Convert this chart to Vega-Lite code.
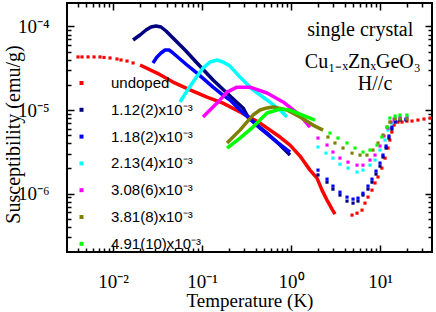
{
  "$schema": "https://vega.github.io/schema/vega-lite/v6.json",
  "width": 365,
  "height": 249,
  "autosize": {"type": "none"},
  "padding": {"left": 67, "top": 3, "right": 4, "bottom": 60},
  "background": "white",
  "config": {"view": {"stroke": "black", "strokeWidth": 2}},
  "datasets": {
    "chi": [
      {"s":"undoped","m":"p","T":0.00404,"chi":4.32e-5},
      {"s":"undoped","m":"p","T":0.00448,"chi":4.32e-5},
      {"s":"undoped","m":"p","T":0.00524,"chi":4.32e-5},
      {"s":"undoped","m":"p","T":0.00612,"chi":4.32e-5},
      {"s":"undoped","m":"p","T":0.00714,"chi":4.32e-5},
      {"s":"undoped","m":"p","T":0.00792,"chi":4.26e-5},
      {"s":"undoped","m":"p","T":0.00925,"chi":4.20e-5},
      {"s":"undoped","m":"p","T":0.0111,"chi":4.08e-5},
      {"s":"undoped","m":"p","T":0.0123,"chi":3.97e-5},
      {"s":"undoped","m":"p","T":0.01436,"chi":3.86e-5},
      {"s":"undoped","m":"p","T":0.0168,"chi":3.66e-5},
      {"s":"undoped","m":"l","T":0.0201,"chi":3.46e-5},
      {"s":"undoped","m":"l","T":0.0312,"chi":2.77e-5},
      {"s":"undoped","m":"l","T":0.0472,"chi":2.16e-5},
      {"s":"undoped","m":"l","T":0.0733,"chi":1.74e-5},
      {"s":"undoped","m":"l","T":0.1138,"chi":1.43e-5},
      {"s":"undoped","m":"l","T":0.172,"chi":1.21e-5},
      {"s":"undoped","m":"l","T":0.267,"chi":9.46e-6},
      {"s":"undoped","m":"l","T":0.449,"chi":6.98e-6},
      {"s":"undoped","m":"l","T":0.752,"chi":4.75e-6},
      {"s":"undoped","m":"l","T":0.975,"chi":3.81e-6},
      {"s":"undoped","m":"l","T":1.262,"chi":2.81e-6},
      {"s":"undoped","m":"l","T":1.634,"chi":1.91e-6},
      {"s":"undoped","m":"l","T":1.959,"chi":1.53e-6},
      {"s":"undoped","m":"l","T":2.23,"chi":1.10e-6},
      {"s":"undoped","m":"l","T":2.54,"chi":8.36e-7},
      {"s":"undoped","m":"l","T":2.89,"chi":6.52e-7},
      {"s":"undoped","m":"l","T":3.12,"chi":5.68e-7},
      {"s":"undoped","m":"p","T":4.85,"chi":5.53e-7},
      {"s":"undoped","m":"p","T":5.52,"chi":5.83e-7},
      {"s":"undoped","m":"p","T":6.28,"chi":6.34e-7},
      {"s":"undoped","m":"p","T":6.78,"chi":7.69e-7},
      {"s":"undoped","m":"p","T":7.33,"chi":9.08e-7},
      {"s":"undoped","m":"p","T":8.13,"chi":1.10e-6},
      {"s":"undoped","m":"p","T":8.79,"chi":1.34e-6},
      {"s":"undoped","m":"p","T":9.50,"chi":1.58e-6},
      {"s":"undoped","m":"p","T":10.5,"chi":2.02e-6},
      {"s":"undoped","m":"p","T":11.4,"chi":2.66e-6},
      {"s":"undoped","m":"p","T":12.3,"chi":3.51e-6},
      {"s":"undoped","m":"p","T":12.9,"chi":4.37e-6},
      {"s":"undoped","m":"p","T":13.6,"chi":5.45e-6},
      {"s":"undoped","m":"p","T":14.4,"chi":6.61e-6},
      {"s":"undoped","m":"p","T":15.9,"chi":7.18e-6},
      {"s":"undoped","m":"p","T":17.7,"chi":7.18e-6},
      {"s":"undoped","m":"p","T":20.1,"chi":7.38e-6},
      {"s":"undoped","m":"p","T":22.9,"chi":7.38e-6},
      {"s":"undoped","m":"p","T":26.7,"chi":7.59e-6},
      {"s":"undoped","m":"p","T":31.2,"chi":7.80e-6},
      {"s":"undoped","m":"p","T":36.5,"chi":8.02e-6},

      {"s":"1.12","m":"l","T":0.0168,"chi":6.89e-5},
      {"s":"1.12","m":"l","T":0.0201,"chi":7.91e-5},
      {"s":"1.12","m":"l","T":0.0235,"chi":9.08e-5},
      {"s":"1.12","m":"l","T":0.0267,"chi":9.86e-5},
      {"s":"1.12","m":"l","T":0.0304,"chi":1.014e-4},
      {"s":"1.12","m":"l","T":0.0346,"chi":9.86e-5},
      {"s":"1.12","m":"l","T":0.0394,"chi":8.83e-5},
      {"s":"1.12","m":"l","T":0.0472,"chi":7.28e-5},
      {"s":"1.12","m":"l","T":0.0644,"chi":5.23e-5},
      {"s":"1.12","m":"l","T":0.0879,"chi":3.66e-5},
      {"s":"1.12","m":"l","T":0.133,"chi":2.29e-5},
      {"s":"1.12","m":"l","T":0.2065,"chi":1.47e-5},
      {"s":"1.12","m":"l","T":0.289,"chi":1.06e-5},
      {"s":"1.12","m":"l","T":0.329,"chi":8.24e-6},
      {"s":"1.12","m":"l","T":0.415,"chi":6.61e-6},
      {"s":"1.12","m":"l","T":0.537,"chi":5.30e-6},
      {"s":"1.12","m":"l","T":0.752,"chi":3.81e-6},
      {"s":"1.12","m":"l","T":0.975,"chi":2.89e-6},
      {"s":"1.12","m":"p","T":2.01,"chi":1.67e-6},
      {"s":"1.12","m":"p","T":2.54,"chi":1.37e-6},
      {"s":"1.12","m":"p","T":2.96,"chi":1.13e-6},
      {"s":"1.12","m":"p","T":3.55,"chi":9.6e-7},
      {"s":"1.12","m":"p","T":4.26,"chi":8.13e-7},
      {"s":"1.12","m":"p","T":4.98,"chi":7.69e-7},
      {"s":"1.12","m":"p","T":5.66,"chi":8.13e-7},
      {"s":"1.12","m":"p","T":6.44,"chi":9.6e-7},
      {"s":"1.12","m":"p","T":7.33,"chi":1.13e-6},
      {"s":"1.12","m":"p","T":8.13,"chi":1.37e-6},
      {"s":"1.12","m":"p","T":9.02,"chi":1.71e-6},
      {"s":"1.12","m":"p","T":10.0,"chi":2.13e-6},
      {"s":"1.12","m":"p","T":10.8,"chi":2.74e-6},
      {"s":"1.12","m":"p","T":11.7,"chi":3.51e-6},
      {"s":"1.12","m":"p","T":12.6,"chi":4.62e-6},
      {"s":"1.12","m":"p","T":13.6,"chi":5.92e-6},
      {"s":"1.12","m":"p","T":14.8,"chi":7.18e-6},
      {"s":"1.12","m":"p","T":16.8,"chi":7.59e-6},
      {"s":"1.12","m":"p","T":19.6,"chi":7.59e-6},

      {"s":"1.18","m":"l","T":0.0281,"chi":3.66e-5},
      {"s":"1.18","m":"l","T":0.0312,"chi":4.32e-5},
      {"s":"1.18","m":"l","T":0.0346,"chi":4.82e-5},
      {"s":"1.18","m":"l","T":0.0384,"chi":5.23e-5},
      {"s":"1.18","m":"l","T":0.0426,"chi":5.23e-5},
      {"s":"1.18","m":"l","T":0.0472,"chi":4.82e-5},
      {"s":"1.18","m":"l","T":0.0678,"chi":3.46e-5},
      {"s":"1.18","m":"l","T":0.0879,"chi":2.77e-5},
      {"s":"1.18","m":"l","T":0.133,"chi":1.88e-5},
      {"s":"1.18","m":"l","T":0.172,"chi":1.51e-5},
      {"s":"1.18","m":"l","T":0.2065,"chi":1.32e-5},
      {"s":"1.18","m":"l","T":0.267,"chi":1.00e-5},
      {"s":"1.18","m":"l","T":0.449,"chi":6.08e-6},
      {"s":"1.18","m":"l","T":0.697,"chi":4.14e-6},
      {"s":"1.18","m":"l","T":0.975,"chi":3.14e-6},
      {"s":"1.18","m":"p","T":2.01,"chi":1.91e-6},
      {"s":"1.18","m":"p","T":2.54,"chi":1.49e-6},
      {"s":"1.18","m":"p","T":2.96,"chi":1.23e-6},
      {"s":"1.18","m":"p","T":3.55,"chi":1.04e-6},
      {"s":"1.18","m":"p","T":4.26,"chi":9.08e-7},
      {"s":"1.18","m":"p","T":4.98,"chi":8.59e-7},
      {"s":"1.18","m":"p","T":5.66,"chi":8.83e-7},
      {"s":"1.18","m":"p","T":6.44,"chi":1.01e-6},
      {"s":"1.18","m":"p","T":7.33,"chi":1.23e-6},
      {"s":"1.18","m":"p","T":8.13,"chi":1.49e-6},
      {"s":"1.18","m":"p","T":9.02,"chi":1.86e-6},
      {"s":"1.18","m":"p","T":10.0,"chi":2.32e-6},
      {"s":"1.18","m":"p","T":10.8,"chi":2.89e-6},
      {"s":"1.18","m":"p","T":11.7,"chi":3.71e-6},
      {"s":"1.18","m":"p","T":12.6,"chi":4.89e-6},
      {"s":"1.18","m":"p","T":13.6,"chi":6.25e-6},
      {"s":"1.18","m":"p","T":14.8,"chi":7.38e-6},
      {"s":"1.18","m":"p","T":16.8,"chi":7.80e-6},
      {"s":"1.18","m":"p","T":19.6,"chi":7.80e-6},

      {"s":"2.13","m":"l","T":0.0566,"chi":1.25e-5},
      {"s":"2.13","m":"l","T":0.0678,"chi":1.69e-5},
      {"s":"2.13","m":"l","T":0.0793,"chi":2.16e-5},
      {"s":"2.13","m":"l","T":0.1026,"chi":3.18e-5},
      {"s":"2.13","m":"l","T":0.123,"chi":3.76e-5},
      {"s":"2.13","m":"l","T":0.1476,"chi":3.97e-5},
      {"s":"2.13","m":"l","T":0.172,"chi":3.76e-5},
      {"s":"2.13","m":"l","T":0.2065,"chi":3.36e-5},
      {"s":"2.13","m":"l","T":0.267,"chi":2.48e-5},
      {"s":"2.13","m":"l","T":0.374,"chi":1.74e-5},
      {"s":"2.13","m":"l","T":0.537,"chi":1.32e-5},
      {"s":"2.13","m":"l","T":0.752,"chi":1.00e-5},
      {"s":"2.13","m":"l","T":0.901,"chi":8.24e-6},
      {"s":"2.13","m":"p","T":2.01,"chi":3.61e-6},
      {"s":"2.13","m":"p","T":2.47,"chi":3.05e-6},
      {"s":"2.13","m":"p","T":2.96,"chi":2.66e-6},
      {"s":"2.13","m":"p","T":3.55,"chi":2.25e-6},
      {"s":"2.13","m":"p","T":4.37,"chi":2.02e-6},
      {"s":"2.13","m":"p","T":5.52,"chi":1.81e-6},
      {"s":"2.13","m":"p","T":6.44,"chi":1.91e-6},
      {"s":"2.13","m":"p","T":7.72,"chi":2.19e-6},
      {"s":"2.13","m":"p","T":8.79,"chi":2.52e-6},
      {"s":"2.13","m":"p","T":10.0,"chi":3.32e-6},
      {"s":"2.13","m":"p","T":11.4,"chi":4.37e-6},
      {"s":"2.13","m":"p","T":12.3,"chi":5.75e-6},
      {"s":"2.13","m":"p","T":13.6,"chi":6.98e-6},
      {"s":"2.13","m":"p","T":14.8,"chi":8.02e-6},
      {"s":"2.13","m":"p","T":16.8,"chi":8.24e-6},
      {"s":"2.13","m":"p","T":20.1,"chi":8.24e-6},

      {"s":"3.08","m":"l","T":0.1026,"chi":8.24e-6},
      {"s":"3.08","m":"l","T":0.123,"chi":1.00e-5},
      {"s":"3.08","m":"l","T":0.1476,"chi":1.21e-5},
      {"s":"3.08","m":"l","T":0.191,"chi":1.64e-5},
      {"s":"3.08","m":"l","T":0.247,"chi":1.88e-5},
      {"s":"3.08","m":"l","T":0.346,"chi":1.88e-5},
      {"s":"3.08","m":"l","T":0.537,"chi":1.60e-5},
      {"s":"3.08","m":"l","T":0.813,"chi":1.25e-5},
      {"s":"3.08","m":"l","T":1.262,"chi":8.71e-6},
      {"s":"3.08","m":"l","T":1.634,"chi":6.25e-6},
      {"s":"3.08","m":"p","T":2.01,"chi":4.62e-6},
      {"s":"3.08","m":"p","T":2.54,"chi":3.81e-6},
      {"s":"3.08","m":"p","T":2.96,"chi":3.14e-6},
      {"s":"3.08","m":"p","T":3.55,"chi":2.66e-6},
      {"s":"3.08","m":"p","T":4.37,"chi":2.38e-6},
      {"s":"3.08","m":"p","T":5.52,"chi":2.19e-6},
      {"s":"3.08","m":"p","T":6.44,"chi":2.19e-6},
      {"s":"3.08","m":"p","T":7.72,"chi":2.52e-6},
      {"s":"3.08","m":"p","T":8.79,"chi":2.89e-6},
      {"s":"3.08","m":"p","T":10.0,"chi":3.71e-6},
      {"s":"3.08","m":"p","T":11.1,"chi":4.89e-6},
      {"s":"3.08","m":"p","T":12.3,"chi":6.08e-6},
      {"s":"3.08","m":"p","T":13.3,"chi":7.18e-6},
      {"s":"3.08","m":"p","T":14.4,"chi":7.80e-6},
      {"s":"3.08","m":"p","T":16.8,"chi":8.02e-6},
      {"s":"3.08","m":"p","T":20.1,"chi":8.02e-6},

      {"s":"3.81","m":"l","T":0.191,"chi":4.03e-6},
      {"s":"3.81","m":"l","T":0.267,"chi":5.75e-6},
      {"s":"3.81","m":"l","T":0.374,"chi":8.71e-6},
      {"s":"3.81","m":"l","T":0.449,"chi":1.00e-5},
      {"s":"3.81","m":"l","T":0.537,"chi":1.06e-5},
      {"s":"3.81","m":"l","T":0.628,"chi":1.09e-5},
      {"s":"3.81","m":"l","T":0.901,"chi":1.00e-5},
      {"s":"3.81","m":"l","T":1.262,"chi":8.24e-6},
      {"s":"3.81","m":"l","T":1.766,"chi":6.61e-6},
      {"s":"3.81","m":"l","T":2.29,"chi":5.75e-6},
      {"s":"3.81","m":"p","T":2.60,"chi":4.75e-6},
      {"s":"3.81","m":"p","T":3.12,"chi":4.03e-6},
      {"s":"3.81","m":"p","T":3.84,"chi":3.51e-6},
      {"s":"3.81","m":"p","T":4.85,"chi":3.05e-6},
      {"s":"3.81","m":"p","T":5.96,"chi":2.89e-6},
      {"s":"3.81","m":"p","T":7.14,"chi":2.89e-6},
      {"s":"3.81","m":"p","T":8.34,"chi":3.32e-6},
      {"s":"3.81","m":"p","T":9.50,"chi":4.03e-6},
      {"s":"3.81","m":"p","T":10.8,"chi":5.02e-6},
      {"s":"3.81","m":"p","T":12.0,"chi":6.25e-6},
      {"s":"3.81","m":"p","T":12.9,"chi":7.18e-6},
      {"s":"3.81","m":"p","T":14.8,"chi":7.80e-6},
      {"s":"3.81","m":"p","T":16.8,"chi":7.80e-6},
      {"s":"3.81","m":"p","T":20.1,"chi":7.80e-6},

      {"s":"4.91","m":"l","T":0.191,"chi":3.51e-6},
      {"s":"4.91","m":"l","T":0.267,"chi":4.62e-6},
      {"s":"4.91","m":"l","T":0.374,"chi":6.25e-6},
      {"s":"4.91","m":"l","T":0.537,"chi":9.21e-6},
      {"s":"4.91","m":"l","T":0.752,"chi":1.03e-5},
      {"s":"4.91","m":"l","T":0.975,"chi":1.00e-5},
      {"s":"4.91","m":"l","T":1.262,"chi":8.95e-6},
      {"s":"4.91","m":"l","T":1.86,"chi":7.59e-6},
      {"s":"4.91","m":"p","T":2.74,"chi":5.30e-6},
      {"s":"4.91","m":"p","T":3.37,"chi":4.62e-6},
      {"s":"4.91","m":"p","T":4.26,"chi":4.03e-6},
      {"s":"4.91","m":"p","T":5.24,"chi":3.51e-6},
      {"s":"4.91","m":"p","T":6.44,"chi":3.14e-6},
      {"s":"4.91","m":"p","T":7.72,"chi":3.32e-6},
      {"s":"4.91","m":"p","T":9.25,"chi":3.81e-6},
      {"s":"4.91","m":"p","T":10.5,"chi":4.75e-6},
      {"s":"4.91","m":"p","T":12.0,"chi":6.25e-6},
      {"s":"4.91","m":"p","T":12.9,"chi":8.02e-6},
      {"s":"4.91","m":"p","T":14.8,"chi":8.47e-6},
      {"s":"4.91","m":"p","T":16.8,"chi":8.71e-6},
      {"s":"4.91","m":"p","T":20.1,"chi":8.71e-6}
    ],
    "notes": [
      {"t":"single crystal","T":6.0,"chi":9.1e-5},
      {"t":"Cu₁₋ₓZnₓGeO₃","T":6.4,"chi":3.76e-5},
      {"t":"H//c","T":8.8,"chi":2.05e-5}
    ]
  },
  "layer": [
    {
      "data": {"name": "chi"},
      "transform": [{"filter": "datum.m == 'l'"}],
      "mark": {"type": "line", "strokeWidth": 3.5, "strokeJoin": "round", "strokeCap": "butt"},
      "encoding": {
        "x": {"field": "T", "type": "quantitative",
          "scale": {"type": "log", "domain": [0.00304, 38.4], "nice": false},
          "axis": {"orient": "bottom", "domain": false, "grid": false,
            "values": [0.004,0.005,0.006,0.007,0.008,0.009,0.01,0.02,0.03,0.04,0.05,0.06,0.07,0.08,0.09,0.1,0.2,0.3,0.4,0.5,0.6,0.7,0.8,0.9,1,2,3,4,5,6,7,8,9,10,20,30],
            "tickColor": "black", "tickWidth": 1.5,
            "tickSize": {"condition": {"test": "datum.value == 0.01 || datum.value == 0.1 || datum.value == 1 || datum.value == 10", "value": -7}, "value": -4},
            "labelExpr": "datum.value == 0.01 ? '10⁻²' : datum.value == 0.1 ? '10⁻¹' : datum.value == 1 ? '10⁰' : datum.value == 10 ? '10¹' : ''",
            "labelOverlap": false, "labelFlush": false,
            "labelFont": "Liberation Serif", "labelFontSize": 19, "labelColor": "black", "labelPadding": 27,
            "title": "Temperature (K)", "titleFont": "Liberation Serif", "titleFontSize": 19, "titleFontWeight": "normal", "titleColor": "black", "titlePadding": -3}},
        "y": {"field": "chi", "type": "quantitative",
          "scale": {"type": "log", "domain": [2e-7, 1.91e-4], "nice": false},
          "axis": {"orient": "left", "domain": false, "grid": false,
            "values": [3e-7,4e-7,5e-7,6e-7,7e-7,8e-7,9e-7,1e-6,2e-6,3e-6,4e-6,5e-6,6e-6,7e-6,8e-6,9e-6,1e-5,2e-5,3e-5,4e-5,5e-5,6e-5,7e-5,8e-5,9e-5,1e-4],
            "tickColor": "black", "tickWidth": 1.5,
            "tickSize": {"condition": {"test": "datum.value == 1e-6 || datum.value == 1e-5 || datum.value == 1e-4", "value": -7}, "value": -4},
            "labelExpr": "datum.value == 1e-6 ? '10⁻⁶' : datum.value == 1e-5 ? '10⁻⁵' : datum.value == 1e-4 ? '10⁻⁴' : ''",
            "labelOverlap": false, "labelFlush": false,
            "labelFont": "Liberation Serif", "labelFontSize": 19, "labelColor": "black", "labelPadding": 25,
            "title": "Susceptibility (emu/g)", "titleFont": "Liberation Serif", "titleFontSize": 20, "titleFontWeight": "normal", "titleColor": "black", "titlePadding": -6, "titleY": 131}},
        "color": {"field": "s", "type": "nominal",
          "scale": {"domain": ["undoped","1.12","1.18","2.13","3.08","3.81","4.91"],
                    "range": ["#ff0000","#000080","#0000ff","#00ffff","#ff00ff","#808000","#00ff00"]},
          "legend": {"orient": "none", "legendX": 7, "legendY": 72.5, "title": null, "padding": 0,
            "symbolType": "square", "symbolSize": 16, "symbolStrokeWidth": 0,
            "labelFont": "Liberation Sans", "labelFontSize": 15, "labelColor": "black",
            "labelOffset": 22, "rowPadding": 10.8,
            "labelExpr": "datum.label == 'undoped' ? 'undoped' : datum.label == '1.12' ? '1.12(2)x10⁻³' : datum.label == '1.18' ? '1.18(2)x10⁻³' : datum.label == '2.13' ? '2.13(4)x10⁻³' : datum.label == '3.08' ? '3.08(6)x10⁻³' : datum.label == '3.81' ? '3.81(8)x10⁻³' : '4.91(10)x10⁻³'"}}
      }
    },
    {
      "data": {"name": "chi"},
      "transform": [{"filter": "datum.m == 'p'"}],
      "mark": {"type": "square", "size": 10, "opacity": 1},
      "encoding": {
        "x": {"field": "T", "type": "quantitative",
          "axis": {"orient": "top", "domain": false, "grid": false, "labels": false, "title": null,
            "values": [0.004,0.005,0.006,0.007,0.008,0.009,0.01,0.02,0.03,0.04,0.05,0.06,0.07,0.08,0.09,0.1,0.2,0.3,0.4,0.5,0.6,0.7,0.8,0.9,1,2,3,4,5,6,7,8,9,10,20,30],
            "tickColor": "black", "tickWidth": 1.5,
            "tickSize": {"condition": {"test": "datum.value == 0.01 || datum.value == 0.1 || datum.value == 1 || datum.value == 10", "value": -7}, "value": -4}}},
        "y": {"field": "chi", "type": "quantitative",
          "axis": {"orient": "right", "domain": false, "grid": false, "labels": false, "title": null,
            "values": [3e-7,4e-7,5e-7,6e-7,7e-7,8e-7,9e-7,1e-6,2e-6,3e-6,4e-6,5e-6,6e-6,7e-6,8e-6,9e-6,1e-5,2e-5,3e-5,4e-5,5e-5,6e-5,7e-5,8e-5,9e-5,1e-4],
            "tickColor": "black", "tickWidth": 1.5,
            "tickSize": {"condition": {"test": "datum.value == 1e-6 || datum.value == 1e-5 || datum.value == 1e-4", "value": -7}, "value": -4}}},
        "color": {"field": "s", "type": "nominal",
          "legend": {"orient": "none", "legendX": 7, "legendY": 72.5, "title": null, "padding": 0,
            "symbolType": "square", "symbolSize": 16, "symbolStrokeWidth": 0,
            "labelFont": "Liberation Sans", "labelFontSize": 15, "labelColor": "black",
            "labelOffset": 22, "rowPadding": 10.8,
            "labelExpr": "datum.label == 'undoped' ? 'undoped' : datum.label == '1.12' ? '1.12(2)x10⁻³' : datum.label == '1.18' ? '1.18(2)x10⁻³' : datum.label == '2.13' ? '2.13(4)x10⁻³' : datum.label == '3.08' ? '3.08(6)x10⁻³' : datum.label == '3.81' ? '3.81(8)x10⁻³' : '4.91(10)x10⁻³'"}}
      }
    },
    {
      "data": {"name": "notes"},
      "mark": {"type": "text", "font": "Liberation Serif", "fontSize": 20, "align": "center", "baseline": "middle", "color": "black"},
      "encoding": {
        "x": {"field": "T", "type": "quantitative", "axis": null},
        "y": {"field": "chi", "type": "quantitative", "axis": null},
        "text": {"field": "t"}
      }
    }
  ],
  "resolve": {"axis": {"x": "independent", "y": "independent"}}
}
